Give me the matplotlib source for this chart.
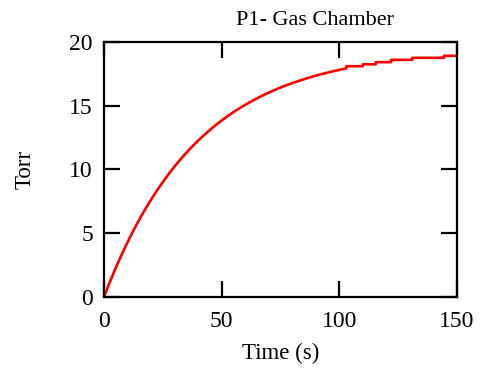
import matplotlib
matplotlib.use('Agg')
import matplotlib.pyplot as plt

# values
time_s = [0, 2, 4, 6, 8, 10, 12, 14, 16, 18, 20, 22, 24, 26, 28, 30, 32, 34, 36, 38,
          40, 42, 44, 46, 48, 50, 52, 54, 56, 58, 60, 62, 64, 66, 68, 70, 72, 74, 76, 78,
          80, 82, 84, 86, 88, 90, 92, 94, 96, 98, 100,
          103, 103, 110, 110, 115.5, 115.5, 122, 122, 131, 131, 144.5, 144.5, 150]
torr = [0.0, 0.95, 1.85, 2.70, 3.52, 4.29, 5.03, 5.73, 6.40, 7.03, 7.63, 8.21, 8.75,
        9.27, 9.77, 10.24, 10.68, 11.11, 11.51, 11.90, 12.26, 12.61, 12.94, 13.26, 13.56,
        13.84, 14.11, 14.37, 14.62, 14.85, 15.07, 15.28, 15.48, 15.67, 15.86, 16.03, 16.19,
        16.35, 16.50, 16.64, 16.77, 16.90, 17.02, 17.14, 17.25, 17.36, 17.46, 17.55, 17.64,
        17.73, 17.81,
        17.94, 18.10, 18.10, 18.25, 18.25, 18.42, 18.42, 18.60, 18.60, 18.76, 18.76, 18.92, 18.92]

plt.rcParams['font.family'] = 'Liberation Serif'

fig = plt.figure(figsize=(4.81, 3.71), dpi=100)
ax = fig.add_axes([0.2162, 0.1995, 0.7338, 0.6873])

ax.plot(time_s, torr, color='#ff0000', lw=1.9)

ax.set_xlim(0, 150)
ax.set_ylim(0, 20)
ax.set_xticks([0, 50, 100, 150])
ax.set_yticks([0, 5, 10, 15, 20])

for s in ax.spines.values():
    s.set_linewidth(1.6)
ax.tick_params(direction='in', length=11.5, width=1.6, top=True, right=True,
               labelsize=17)
ax.tick_params(axis='x', pad=10)
ax.tick_params(axis='y', pad=8)

ax.set_title('P1- Gas Chamber', fontsize=16, x=0.598, pad=12)
ax.set_xlabel('Time (s)', fontsize=16.5, labelpad=8)
ax.set_ylabel('Torr', fontsize=16.5, labelpad=24)

fig.savefig('out.png', dpi=100)
